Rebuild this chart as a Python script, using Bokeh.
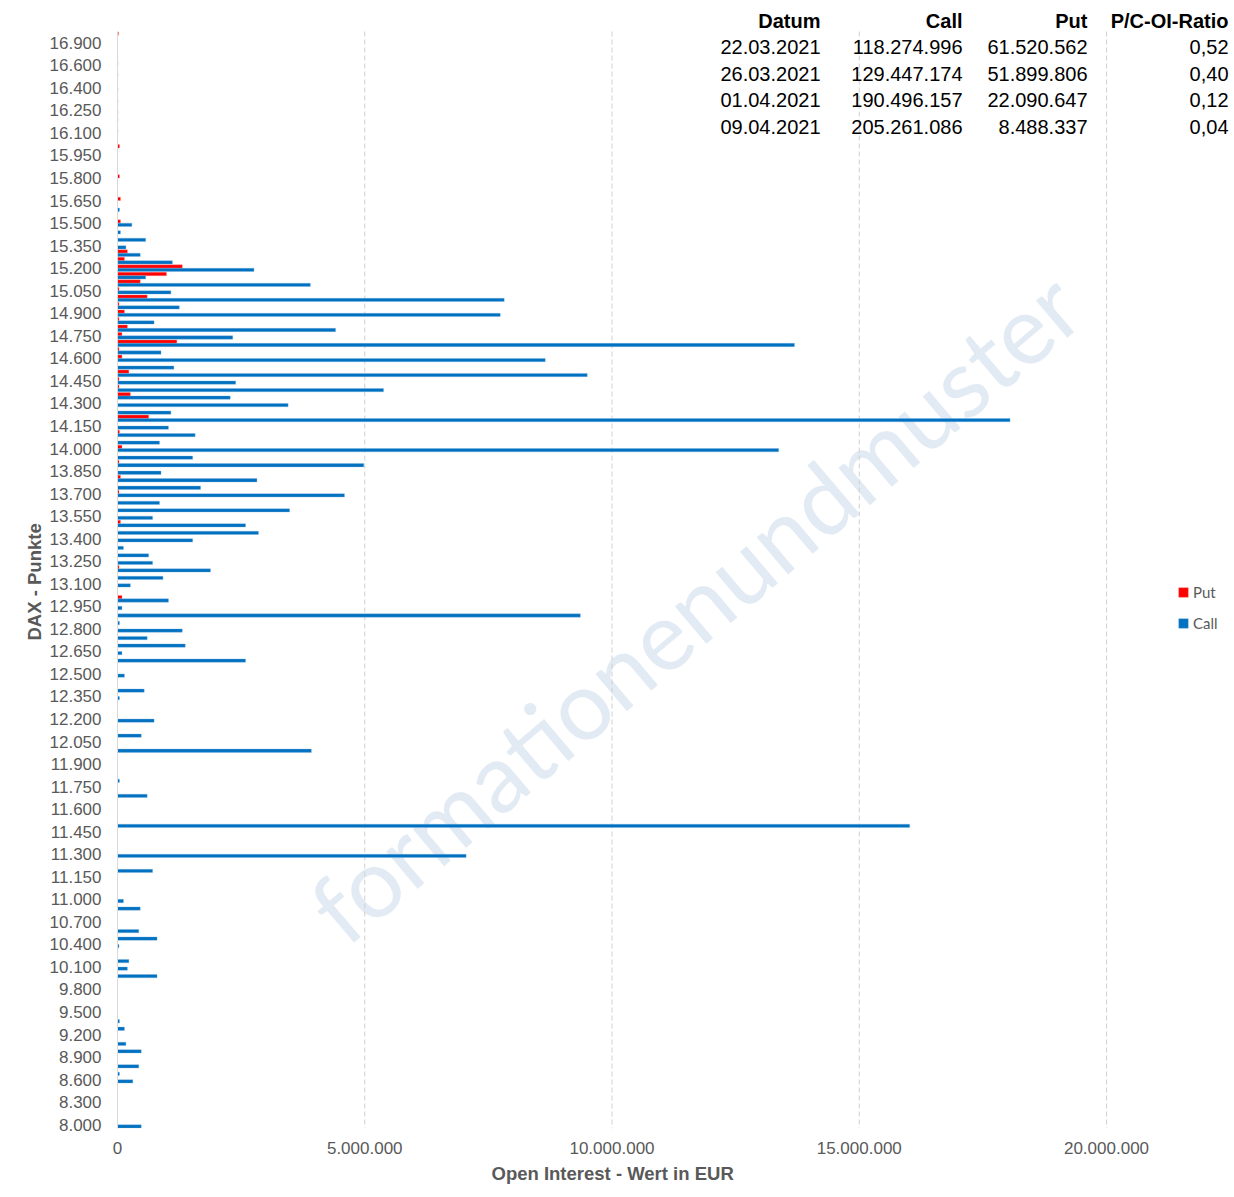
from bokeh.plotting import figure
from bokeh.models import Range1d, FixedTicker, Label, Legend, LegendItem, ColumnDataSource, Title
from bokeh.embed import file_html
from bokeh.resources import INLINE

# ---------------- data ----------------
strikes = [
    17000, 16900, 16800, 16700, 16600, 16500, 16450, 16400, 16350, 16300,
    16250, 16200, 16150, 16100, 16050, 16000, 15950, 15900, 15850, 15800,
    15750, 15700, 15650, 15600, 15550, 15500, 15450, 15400, 15350, 15300,
    15250, 15200, 15150, 15100, 15050, 15000, 14950, 14900, 14850, 14800,
    14750, 14700, 14650, 14600, 14550, 14500, 14450, 14400, 14350, 14300,
    14250, 14200, 14150, 14100, 14050, 14000, 13950, 13900, 13850, 13800,
    13750, 13700, 13650, 13600, 13550, 13500, 13450, 13400, 13350, 13300,
    13250, 13200, 13150, 13100, 13050, 13000, 12950, 12900, 12850, 12800,
    12750, 12700, 12650, 12600, 12550, 12500, 12450, 12400, 12350, 12300,
    12250, 12200, 12150, 12100, 12050, 12000, 11950, 11900, 11850, 11800,
    11750, 11700, 11650, 11600, 11550, 11500, 11450, 11400, 11350, 11300,
    11250, 11200, 11150, 11100, 11050, 11000, 10900, 10800, 10700, 10600,
    10500, 10400, 10300, 10200, 10100, 10000, 9900, 9800, 9700, 9600,
    9500, 9400, 9300, 9200, 9100, 9000, 8900, 8800, 8700, 8600,
    8500, 8400, 8300, 8200, 8100, 8000,
]

put_oi = [
    20000, 0, 0, 0, 10000, 0, 0, 0, 0, 10000,
    0, 0, 0, 10000, 0, 40000, 0, 0, 0, 40000,
    0, 0, 60000, 0, 0, 60000, 0, 0, 0, 200000,
    140000, 1310000, 990000, 460000, 30000, 600000, 30000, 140000, 30000, 200000,
    90000, 1200000, 30000, 90000, 0, 230000, 30000, 30000, 260000, 0,
    0, 630000, 0, 40000, 0, 90000, 0, 30000, 0, 60000,
    0, 30000, 0, 0, 0, 60000, 0, 0, 0, 0,
    0, 30000, 0, 0, 0, 90000, 0, 0, 0, 0,
    0, 0, 0, 0, 0, 0, 0, 0, 0, 0,
    0, 0, 0, 0, 0, 0, 0, 0, 0, 0,
    0, 0, 0, 0, 0, 0, 0, 0, 0, 0,
    0, 0, 0, 0, 0, 0, 0, 0, 0, 0,
    0, 0, 0, 0, 0, 0, 0, 0, 0, 0,
    0, 0, 0, 0, 0, 0, 0, 0, 0, 0,
    0, 0, 0, 0, 0, 0,
]

call_oi = [
    0, 0, 0, 0, 0, 10000, 0, 10000, 0, 0,
    10000, 10000, 0, 0, 0, 0, 0, 0, 0, 0,
    0, 0, 0, 40000, 0, 290000, 60000, 570000, 170000, 460000,
    1110000, 2760000, 570000, 3900000, 1080000, 7820000, 1250000, 7740000, 740000, 4410000,
    2330000, 13690000, 880000, 8650000, 1140000, 9500000, 2390000, 5380000, 2280000, 3450000,
    1080000, 18050000, 1030000, 1570000, 850000, 13370000, 1520000, 4980000, 880000, 2820000,
    1680000, 4590000, 850000, 3480000, 710000, 2590000, 2850000, 1520000, 120000, 630000,
    710000, 1880000, 920000, 260000, 0, 1030000, 90000, 9360000, 40000, 1310000,
    600000, 1370000, 90000, 2590000, 0, 140000, 0, 540000, 40000, 0,
    0, 740000, 0, 480000, 0, 3920000, 0, 0, 0, 40000,
    0, 600000, 0, 0, 0, 16020000, 0, 0, 0, 7050000,
    0, 710000, 0, 0, 0, 120000, 460000, 0, 0, 430000,
    800000, 30000, 0, 230000, 200000, 800000, 0, 0, 0, 0,
    0, 40000, 140000, 0, 170000, 480000, 0, 430000, 40000, 310000,
    0, 0, 0, 0, 0, 480000,
]

x_ticks = [0, 5000000, 10000000, 15000000, 20000000]
x_max_tick = 20000000

table_header = ["Datum", "Call", "Put", "P/C-OI-Ratio"]
table_dates = ["22.03.2021", "26.03.2021", "01.04.2021", "09.04.2021"]
table_call = ["118.274.996", "129.447.174", "190.496.157", "205.261.086"]
table_put = ["61.520.562", "51.899.806", "22.090.647", "8.488.337"]
table_ratio = ["0,52", "0,40", "0,12", "0,04"]


def de_num(v):
    return f"{int(v):,}".replace(",", ".")


# ---------------- geometry (screen px) ----------------
W, H = 1232, 1195
AX_L = 117      # x of value 0
AX_20 = 1106    # x of value 20.000.000
CAT_T = 31      # top edge of category area
CAT_B = 1128    # bottom edge of category area
FR_T = 0        # frame top (frame extends up so the table fits)

n = len(strikes)
pos = list(range(n))
slot = (CAT_B - CAT_T) / n
px_per_eur = (AX_20 - AX_L) / x_max_tick
x_end = (W - AX_L) / px_per_eur
y_end = -0.5 - (CAT_T - FR_T) / slot


def dx(sx):
    return (sx - AX_L) / px_per_eur


def dy(sy):
    return -0.5 + (sy - CAT_T) / slot


BAR_H = 0.44
OFF = 0.225

src = ColumnDataSource(data=dict(
    y_put=[p - OFF for p in pos],
    y_call=[p + OFF for p in pos],
    put=put_oi,
    call=call_oi,
))

p = figure(width=W, height=H, output_backend="svg", toolbar_location=None,
           x_range=Range1d(0, x_end), y_range=Range1d(n - 0.5, y_end),
           min_border_left=AX_L, min_border_right=0, min_border_top=FR_T,
           min_border_bottom=H - CAT_B)
p.outline_line_color = None
p.background_fill_color = "white"
p.border_fill_color = "white"

# watermark (behind everything)
wm = Label(x=dx(693), y=dy(605), text="formationenundmuster", angle=40.3, angle_units="deg",
           text_align="center", text_baseline="middle", text_font="Lato",
           text_font_size="96px", text_color="#dbe5f1", text_alpha=0.8, level="underlay")
p.add_layout(wm)

# dashed vertical gridlines over the category area
g_ticks = x_ticks[1:]
p.segment(x0=g_ticks, x1=g_ticks, y0=[-0.5] * len(g_ticks), y1=[n - 0.5] * len(g_ticks),
          line_color="#d0d0d0", line_dash="5 3", line_width=1)

put_r = p.hbar(y="y_put", left=0, right="put", height=BAR_H, source=src,
               fill_color="#FF0000", line_color="#FF8080", line_width=0.6, line_alpha=0.6)
call_r = p.hbar(y="y_call", left=0, right="call", height=BAR_H, source=src,
                fill_color="#0070C0", line_color="#7FB4E0", line_width=0.6, line_alpha=0.6)

# axes
lab_font = "Liberation Sans"
grey = "#595959"

y_ticks = [k for k in pos if (n - 1 - k) % 3 == 0]
p.yaxis.ticker = FixedTicker(ticks=y_ticks)
p.yaxis.major_label_overrides = {k: de_num(strikes[k]) for k in y_ticks}
p.yaxis.bounds = (-0.5, n - 0.5)
p.yaxis.axis_line_color = "#d9d9d9"
p.yaxis.major_tick_line_color = None
p.yaxis.minor_tick_line_color = None
p.yaxis.major_tick_out = 0
p.yaxis.major_tick_in = 0
p.yaxis.major_label_text_font = lab_font
p.yaxis.major_label_text_font_size = "17px"
p.yaxis.major_label_text_color = grey
p.yaxis.major_label_standoff = 16

p.xaxis.ticker = FixedTicker(ticks=x_ticks)
p.xaxis.major_label_overrides = {t: de_num(t) for t in x_ticks}
p.xaxis.axis_line_color = None
p.xaxis.major_tick_line_color = None
p.xaxis.minor_tick_line_color = None
p.xaxis.major_tick_out = 0
p.xaxis.major_tick_in = 0
p.xaxis.major_label_text_font = lab_font
p.xaxis.major_label_text_font_size = "17px"
p.xaxis.major_label_text_color = grey
p.xaxis.major_label_standoff = 13

p.ygrid.grid_line_color = None
p.xgrid.grid_line_color = None

# axis titles (side titles, positioned to centre on the value / category area)
x_title = Title(text="Open Interest - Wert in EUR", align="left",
                offset=491 - AX_L, standoff=8,
                text_font=lab_font, text_font_size="18.5px", text_font_style="bold",
                text_color=grey)
p.add_layout(x_title, "below")
y_title = Title(text="DAX - Punkte", align="left",
                offset=CAT_B - 640, standoff=4,
                text_font=lab_font, text_font_size="18.5px", text_font_style="bold",
                text_color=grey)
p.add_layout(y_title, "left")

# legend
legend = Legend(items=[LegendItem(label="Put", renderers=[put_r]),
                       LegendItem(label="Call", renderers=[call_r])],
                location=(1177 - AX_L, CAT_B - 633), margin=0, padding=0, spacing=10,
                glyph_width=12, glyph_height=12, label_height=21, label_standoff=4,
                label_text_font="Lato", label_text_font_size="15px",
                label_text_color=grey, border_line_color=None, background_fill_alpha=0)
p.add_layout(legend)

# table (text overlay top right)
col_right = [820, 962, 1087, 1228]
row_y = [20, 46, 73, 99, 126]
for c, htxt in enumerate(table_header):
    p.add_layout(Label(x=dx(col_right[c]), y=dy(row_y[0]), text=htxt, text_align="right",
                       text_baseline="middle", text_font=lab_font, text_font_size="20px",
                       text_font_style="bold", text_color="#000000"))
cols = [table_dates, table_call, table_put, table_ratio]
for c, col in enumerate(cols):
    for r, txt in enumerate(col):
        p.add_layout(Label(x=dx(col_right[c]), y=dy(row_y[r + 1]), text=txt, text_align="right",
                           text_baseline="middle", text_font=lab_font, text_font_size="20px",
                           text_color="#000000"))

open("out.html", "w").write(file_html(p, INLINE))
